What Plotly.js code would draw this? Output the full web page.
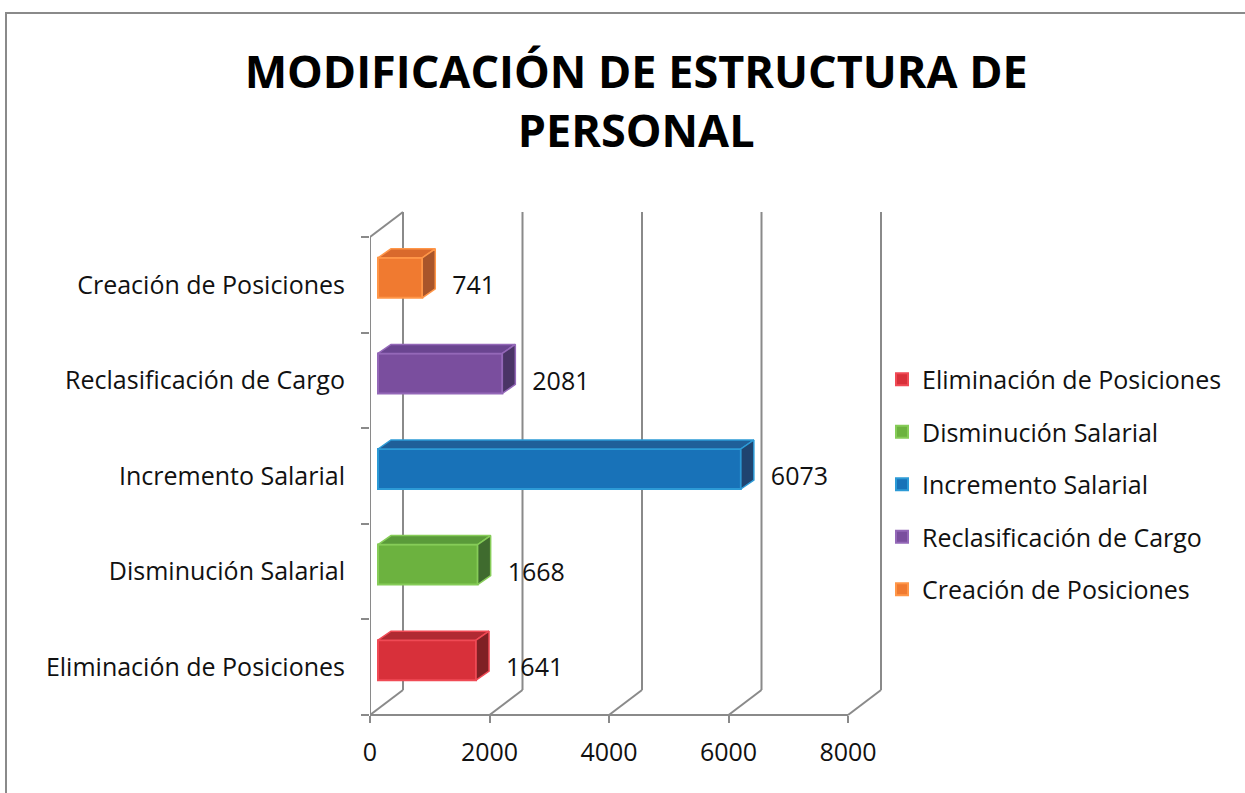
<!DOCTYPE html>
<html>
<head>
<meta charset="utf-8">
<script src="https://cdn.plot.ly/plotly-3.0.1.min.js"></script>
<style>
html,body{margin:0;padding:0;background:#fff;}
#wrap{position:relative;width:1245px;height:793px;overflow:hidden;}
#chart{position:absolute;left:0;top:0;width:1245px;height:793px;}
#frame{position:absolute;left:5px;top:12px;width:1300px;height:900px;border-top:2px solid #8a8a8a;border-left:2px solid #8a8a8a;pointer-events:none;}
</style>
</head>
<body>
<div id="wrap"><div id="chart"></div><div id="frame"></div></div>
<script>
const categories = ['Eliminación de Posiciones','Disminución Salarial','Incremento Salarial','Reclasificación de Cargo','Creación de Posiciones'];
const values = [1641, 1668, 6073, 2081, 741];
const colors = ['#d8303a','#6cb23f','#1872b8','#7a4e9e','#f07a30'];
const edgeColors = ['#f04a55','#86cc58','#2c9ad6','#9468b8','#ff9648'];
const topColors = ['#b02a32','#5a9a3a','#1f5f99','#6a4590','#d9692c'];
const sideColors = ['#7f2024','#3f6b2e','#1f4470','#4a3466','#a9552a'];
const tickValues = [0, 2000, 4000, 6000, 8000];
const tickLabels = ['0','2000','4000','6000','8000'];

const FONT = 'Open Sans, sans-serif';
const axisMax = 8000;
const plotW = 512, frontW = 478, plotH = 478;
const pxX = axisMax / frontW;          // data units per pixel (x)
const pxY = 5 / plotH;                  // category units per pixel (y)
const rangeMax = axisMax * plotW / frontW;
const depthX = 33 * pxX;
const depthY = 25 / plotH;
const gridColor = '#8a8a8a';

// 3D bar geometry (styling constants, in pixels)
const barOffX = 8 * pxX, barShiftY = 7 * pxY, barHalf = 20 * pxY;
const faceDX = 13 * pxX, faceDY = 9 * pxY;
const labelGapX = 30 * pxX;

const traces = [];
categories.forEach((c, i) => {
  const v = values[i];
  traces.push({
    type: 'bar', orientation: 'h', name: c,
    y: [c], x: [v], base: [barOffX],
    width: 2 * barHalf, offset: barShiftY - barHalf,
    marker: {color: colors[i], line: {color: edgeColors[i], width: 2}},
    legendgroup: 'g' + i, hoverinfo: 'x+y'
  });
});
categories.forEach((c, i) => {
  const v = values[i];
  const y0 = i + barShiftY - barHalf, y1 = i + barShiftY + barHalf;
  const x0 = barOffX, x1 = barOffX + v;
  traces.push({
    type: 'scatter', mode: 'lines', yaxis: 'y2', showlegend: false, hoverinfo: 'skip',
    x: [x0, x1, x1 + faceDX, x0 + faceDX, x0],
    y: [y1, y1, y1 + faceDY, y1 + faceDY, y1],
    fill: 'toself', fillcolor: topColors[i], line: {color: edgeColors[i], width: 1.5}
  });
  traces.push({
    type: 'scatter', mode: 'lines', yaxis: 'y2', showlegend: false, hoverinfo: 'skip',
    x: [x1, x1 + faceDX, x1 + faceDX, x1, x1],
    y: [y0, y0 + faceDY, y1 + faceDY, y1, y0],
    fill: 'toself', fillcolor: sideColors[i], line: {color: edgeColors[i], width: 1.5}
  });
});
traces.push({
  type: 'scatter', mode: 'text', yaxis: 'y2', showlegend: false, hoverinfo: 'skip',
  x: values.map(v => barOffX + v + labelGapX),
  y: categories.map((c, i) => i - 0.03),
  text: values.map(String),
  textposition: 'middle right',
  textfont: {family: FONT, size: 25, color: '#111'},
  cliponaxis: false
});

const shapes = [];
const ln = {color: gridColor, width: 2};
tickValues.forEach(t => {
  shapes.push({type:'line', layer:'below', xref:'x', yref:'paper', x0:t, y0:0, x1:t+depthX, y1:depthY, line:ln});
  shapes.push({type:'line', layer:'below', xref:'x', yref:'paper', x0:t+depthX, y0:depthY, x1:t+depthX, y1:1+depthY, line:ln});
});
shapes.push({type:'line', layer:'below', xref:'x', yref:'paper', x0:0, y0:0, x1:axisMax, y1:0, line:ln});
shapes.push({type:'line', layer:'below', xref:'x', yref:'paper', x0:0, y0:0, x1:0, y1:1, line:ln});
shapes.push({type:'line', layer:'below', xref:'x', yref:'paper', x0:0, y0:1, x1:depthX, y1:1+depthY, line:ln});

const layout = {
  width: 1245, height: 793,
  paper_bgcolor: '#fff', plot_bgcolor: 'rgba(0,0,0,0)',
  margin: {l: 370, r: 1245 - 882, t: 237, b: 78, pad: 0},
  font: {family: FONT, color: '#111'},
  title: {
    text: '<b>MODIFICACIÓN DE ESTRUCTURA DE<br>PERSONAL</b>',
    font: {family: FONT, size: 45, color: '#000'},
    x: 0.511, xanchor: 'center', xref: 'container',
    y: 1 - 88/793, yanchor: 'top', yref: 'container'
  },
  barmode: 'overlay',
  showlegend: true,
  legend: {
    x: 1.0, xanchor: 'left', y: 0.75, yanchor: 'top',
    font: {family: FONT, size: 25, color: '#111'},
    traceorder: 'grouped', tracegroupgap: 17,
    bgcolor: 'rgba(0,0,0,0)'
  },
  xaxis: {
    range: [0, rangeMax],
    tickvals: tickValues, ticktext: tickLabels,
    showgrid: false, zeroline: false, showline: false,
    ticks: 'outside', ticklen: 7, tickwidth: 2, tickcolor: gridColor,
    ticklabelstandoff: 8,
    tickfont: {family: FONT, size: 25, color: '#111'},
    fixedrange: true
  },
  yaxis: {
    type: 'category',
    categoryorder: 'array', categoryarray: categories,
    range: [-0.5, 4.5],
    showgrid: false, zeroline: false, showline: false,
    ticks: 'outside', tickson: 'boundaries', ticklen: 8, tickwidth: 2, tickcolor: gridColor,
    ticklabelstandoff: 24,
    tickfont: {family: FONT, size: 25, color: '#111'},
    fixedrange: true
  },
  yaxis2: {
    overlaying: 'y', type: 'linear', range: [-0.5, 4.5],
    visible: false, fixedrange: true
  },
  shapes: shapes
};

Plotly.newPlot('chart', traces, layout, {displayModeBar: false, staticPlot: true});
</script>
</body>
</html>
